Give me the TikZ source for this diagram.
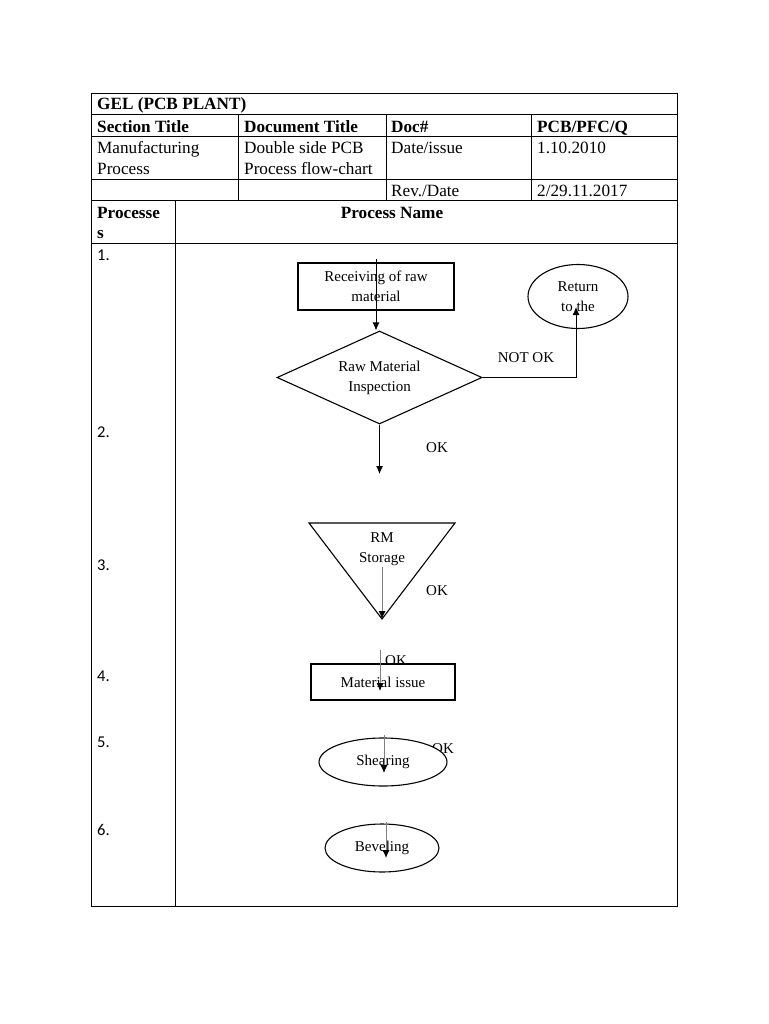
\documentclass[tikz,border=0pt]{standalone}
\usepackage{fontspec}
\setmainfont{Liberation Serif}
\newfontfamily\numfont{Carlito}
\usetikzlibrary{shapes.geometric,arrows.meta}
\begin{document}
\begin{tikzpicture}[x=1pt,y=-1pt,
  grid/.style={line width=1pt, draw=black},
  hdr/.style={anchor=base west, inner sep=0, font=\fontsize{17.2}{20}\selectfont},
  hdrb/.style={hdr, font=\fontsize{17.2}{20}\selectfont\bfseries},
  num/.style={anchor=base west, inner sep=0, font=\numfont\fontsize{16.5}{20}\selectfont},
  fc/.style={draw=black, line width=1.1pt, fill=white, align=center, inner sep=0,
             font=\fontsize{15}{20}\selectfont},
  lbl/.style={inner sep=0, font=\fontsize{15}{20}\selectfont},
  arr/.style={line width=0.9pt, -{Latex[length=8pt,width=7pt,color=black]}},
  garr/.style={arr, draw=gray}
]
\useasboundingbox (0,0) rectangle (768,1024);
\fill[white] (0,0) rectangle (768,1024);

% ---- table grid ----
\draw[grid] (91,94) rectangle (677,906);
\draw[grid] (91,115) -- (677,115);
\draw[grid] (91,137) -- (677,137);
\draw[grid] (91,180) -- (677,180);
\draw[grid] (91,201) -- (677,201);
\draw[grid] (91,243) -- (677,243);
\draw[grid] (238,115) -- (238,201);
\draw[grid] (386,115) -- (386,201);
\draw[grid] (531,115) -- (531,201);
\draw[grid] (175,201) -- (175,906);

% ---- header texts ----
\node[hdrb] (gel) at (97,109.5) {GEL (PCB PLANT)};
\node[hdrb] (sect) at (97,132.5) {Section Title};
\node[hdrb] (doct) at (244,132.5) {Document Title};
\node[hdrb] (docn) at (391,132.5) {Doc\#};
\node[hdrb] (pcbq) at (537,132.5) {PCB/PFC/Q};
\node[hdr] (man1) at (97,154) {Manufacturing};
\node[hdr] (man2) at (97,174.5) {Process};
\node[hdr] (dbl1) at (244,154) {Double side PCB};
\node[hdr] (dbl2) at (244,174.5) {Process flow-chart};
\node[hdr] (dati) at (391,154) {Date/issue};
\node[hdr] (datv) at (537,154) {1.10.2010};
\node[hdr] (revd) at (391,196.5) {Rev./Date};
\node[hdr] (revv) at (537,196.5) {2/29.11.2017};
\node[hdrb] (pr1) at (97,218.5) {Processe};
\node[hdrb] (pr2) at (97,238.5) {s};
\node[hdrb, anchor=base] (pname) at (392,218.5) {Process Name};

% ---- step numbers ----
\node[num] (n1) at (97,260.5) {1.};
\node[num] (n2) at (97,437.5) {2.};
\node[num] (n3) at (97,570.5) {3.};
\node[num] (n4) at (97,681.5) {4.};
\node[num] (n5) at (97,747.5) {5.};
\node[num] (n6) at (97,835.5) {6.};

% ---- labels partially hidden by shapes ----
\node[lbl] (ok3) at (396,661) {OK};
\node[lbl] (ok4) at (443,749) {OK};

% ---- flowchart shapes ----
\node[fc, rectangle, minimum width=156, minimum height=47] (recv) at (376,286.5) {Receiving of raw\\material};
\node[fc, diamond, aspect=2.2, minimum width=205, minimum height=93] (insp) at (379.5,377.5) {Raw Material\\Inspection};
\node[fc, ellipse, minimum width=100, minimum height=64] (ret) at (578,296.5) {Return\\to the};
\coordinate (tl) at (309,523);
\coordinate (tr) at (455,523);
\coordinate (rmtip) at (382,619);
\draw[line width=1.1pt, fill=white] (tl) -- (tr) -- (rmtip) -- cycle;
\node[lbl, align=center] (rm) at (382,549) {RM\\Storage};
\node[fc, rectangle, minimum width=144, minimum height=36] (matl) at (383,682) {Material issue};
\node[fc, ellipse, minimum width=128, minimum height=48] (shear) at (383,762) {Shearing};
\node[fc, ellipse, minimum width=114, minimum height=48] (bev) at (382,848) {Beveling};

% ---- labels ----
\node[lbl] (notok) at (526,358) {NOT OK};
\node[lbl] (ok1) at (437,447.5) {OK};
\node[lbl] (ok2) at (437,590.5) {OK};

% ---- connectors ----
\coordinate (a1s) at (376,259);
\draw[arr] (a1s) -- (a1s |- insp.north);
\coordinate (r1) at (576,307);
\draw[arr] (insp.east) -| (r1);
\coordinate (a2e) at (379.5,474);
\draw[arr] (insp.south) -- (a2e);
\coordinate (a3s) at (382,567);
\coordinate (a3e) at (382,619);
\draw[garr] (a3s) -- (a3e);
\coordinate (a4s) at (380,650);
\coordinate (a4e) at (380,691);
\draw[garr] (a4s) -- (a4e);
\coordinate (a5s) at (384,735);
\coordinate (a5e) at (384,773);
\draw[garr] (a5s) -- (a5e);
\coordinate (a6s) at (386,822);
\coordinate (a6e) at (386,858);
\draw[garr] (a6s) -- (a6e);
\end{tikzpicture}
\end{document}
